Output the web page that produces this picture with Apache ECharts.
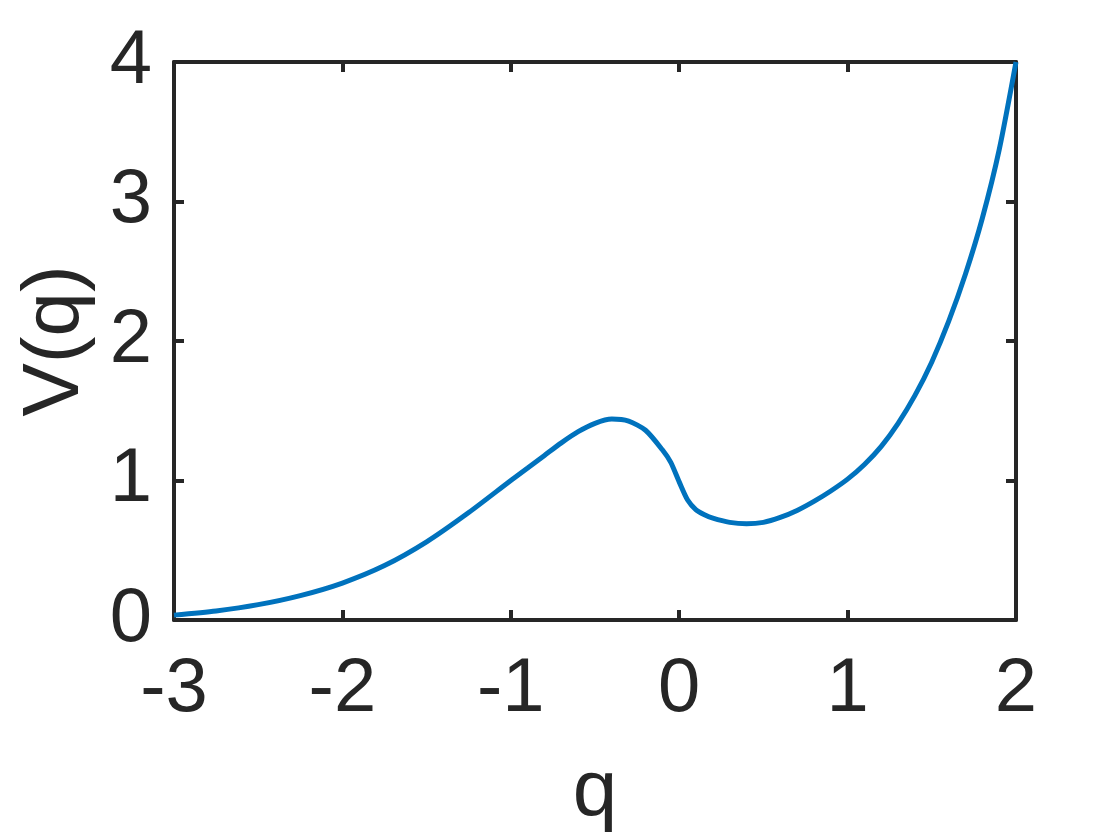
<!DOCTYPE html>
<html>
<head>
<meta charset="utf-8">
<script src="https://cdn.jsdelivr.net/npm/echarts@6/dist/echarts.min.js"></script>
<style>
  html, body { margin: 0; padding: 0; background: #fff; }
  #chart { width: 1120px; height: 840px; }
</style>
</head>
<body>
<div id="chart"></div>
<script>
// values
const qValues = [-3, -2.75, -2.5, -2.25, -2, -1.75, -1.5, -1.25, -1, -0.9, -0.8, -0.7, -0.6, -0.5,
  -0.4, -0.3, -0.2, -0.1, -0.05, 0, 0.05, 0.1, 0.15, 0.2, 0.3, 0.4, 0.5, 0.6, 0.7, 0.8, 0.9, 1.0,
  1.1, 1.2, 1.3, 1.4, 1.5, 1.6, 1.7, 1.8, 1.9, 2.0];
const vValues = [0.035, 0.065, 0.11, 0.175, 0.265, 0.39, 0.56, 0.77, 1.0, 1.09, 1.18, 1.27, 1.35, 1.41,
  1.44, 1.425, 1.36, 1.22, 1.13, 0.99, 0.86, 0.79, 0.755, 0.73, 0.70, 0.69, 0.70, 0.735, 0.785, 0.85, 0.925, 1.01,
  1.115, 1.245, 1.41, 1.61, 1.85, 2.14, 2.48, 2.88, 3.37, 4.0];
const xTicks = [-3, -2, -1, 0, 1, 2];
const yTicks = [0, 1, 2, 3, 4];

const axisColor = "#262626";
const font = "'Liberation Sans', Arial, Helvetica, sans-serif";

const chart = echarts.init(document.getElementById("chart"));

// shared look for all four box sides
const lineStyle = { color: axisColor, width: 4 };
const tick = { show: true, inside: true, length: 10, lineStyle: { color: axisColor, width: 4 } };

const option = {
  animation: false,
  backgroundColor: "#fff",
  grid: { left: 174, top: 62, width: 842, height: 558, containLabel: false },
  xAxis: [
    {
      type: "value",
      min: xTicks[0],
      max: xTicks[xTicks.length - 1],
      interval: 1,
      position: "bottom",
      name: "q",
      nameLocation: "middle",
      nameGap: 133,
      nameTextStyle: { fontSize: 80, color: axisColor, fontFamily: font },
      axisLine: { show: true, onZero: false, lineStyle },
      axisTick: tick,
      splitLine: { show: false },
      axisLabel: { fontSize: 76, color: axisColor, fontFamily: font, margin: 32 },
    },
    {
      type: "value",
      min: xTicks[0],
      max: xTicks[xTicks.length - 1],
      interval: 1,
      position: "top",
      axisLine: { show: true, onZero: false, lineStyle },
      axisTick: tick,
      splitLine: { show: false },
      axisLabel: { show: false },
    },
  ],
  yAxis: [
    {
      type: "value",
      min: yTicks[0],
      max: yTicks[yTicks.length - 1],
      interval: 1,
      position: "left",
      name: "V(q)",
      nameLocation: "middle",
      nameGap: 78,
      nameTextStyle: { fontSize: 80, color: axisColor, fontFamily: font },
      axisLine: { show: true, onZero: false, lineStyle },
      axisTick: tick,
      splitLine: { show: false },
      axisLabel: { fontSize: 76, color: axisColor, fontFamily: font, margin: 22 },
    },
    {
      type: "value",
      min: yTicks[0],
      max: yTicks[yTicks.length - 1],
      interval: 1,
      position: "right",
      axisLine: { show: true, onZero: false, lineStyle },
      axisTick: tick,
      splitLine: { show: false },
      axisLabel: { show: false },
    },
  ],
  series: [
    {
      type: "line",
      data: qValues.map((q, i) => [q, vValues[i]]),
      smooth: 0.25,
      showSymbol: false,
      clip: false,
      lineStyle: { color: "#0072BD", width: 5 },
    },
  ],
};

chart.setOption(option);
</script>
</body>
</html>
